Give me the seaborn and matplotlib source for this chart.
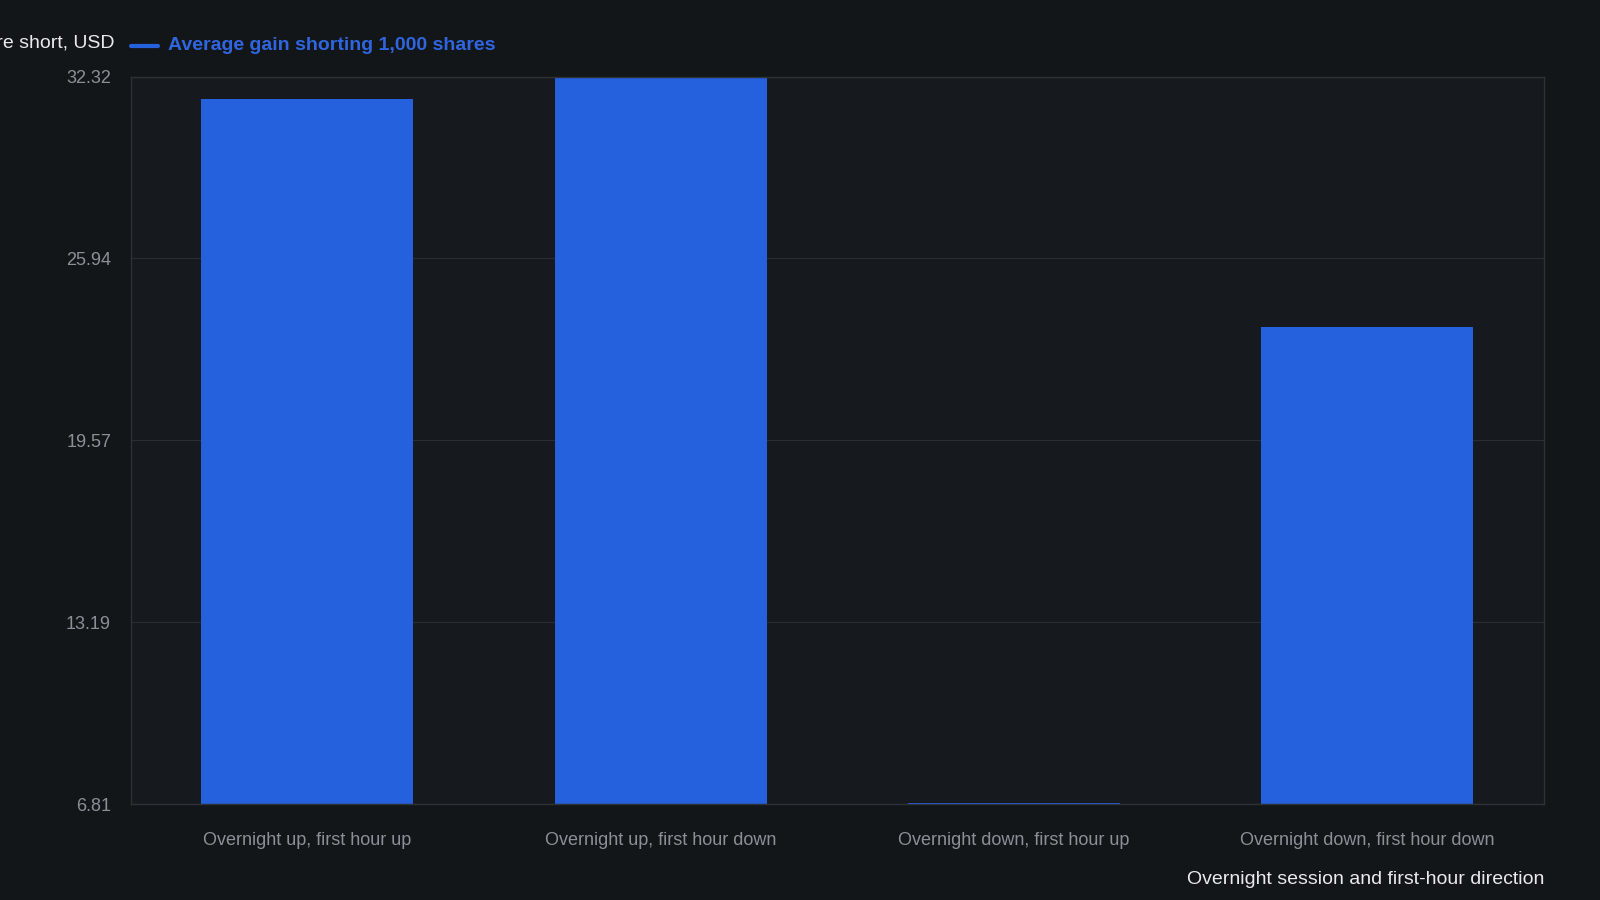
import matplotlib
matplotlib.use("Agg")
import matplotlib.pyplot as plt
import seaborn as sns
import pandas as pd

categories = ["Overnight up, first hour up", "Overnight up, first hour down",
              "Overnight down, first hour up", "Overnight down, first hour down"]
values = [31.53, 32.32, 6.86, 23.52]
yticks = [6.81, 13.19, 19.57, 25.94, 32.32]

bg = "#131619"
sns.set_theme(style="dark")
plt.rcParams['font.family'] = ['Liberation Sans', 'DejaVu Sans']
fig = plt.figure(figsize=(16, 9), dpi=100, facecolor=bg)
ax = fig.add_axes([0.0816, 0.1066, 0.8834, 0.8084])
ax.set_facecolor("#16191d")
df = pd.DataFrame({"cat": categories, "val": values})
sns.barplot(data=df, x="cat", y="val", color="#2560dd", saturation=1, width=0.6,
            linewidth=0, edgecolor="none", ax=ax)
for p in ax.patches:
    p.set_y(yticks[0]); p.set_height(p.get_height() - yticks[0])
ax.set_ylim(yticks[0], yticks[-1])
ax.set_yticks(yticks)
ax.set_yticklabels([f"{v:.2f}" for v in yticks])
ax.grid(axis="y", color="#2a2e33", linewidth=0.8)
ax.grid(axis="x", visible=False)
ax.set_axisbelow(True)
for s in ax.spines.values():
    s.set_color("#2e3237"); s.set_linewidth(1)
ax.tick_params(colors="#8b9098", labelsize=13, length=0)
ax.tick_params(axis="x", pad=20)
ax.tick_params(axis="y", pad=14)
for t in ax.get_xticklabels() + ax.get_yticklabels():
    t.set_color("#8b9098")
ax.set_xlabel("Overnight session and first-hour direction", color="#e8eaed", fontsize=14, loc="right", labelpad=16)
ax.set_ylabel("")
fig.text(0.0716, 0.952, "Average gain per share short, USD", color="#e8eaed", fontsize=14, ha="right", va="center")
fig.lines.append(plt.Line2D([0.0816, 0.099], [0.949, 0.949], transform=fig.transFigure, color="#2560dd", linewidth=3))
fig.text(0.105, 0.949, "Average gain shorting 1,000 shares", color="#2f66e0", fontsize=14, fontweight="bold", va="center")
fig.savefig("out.png", facecolor=bg)
